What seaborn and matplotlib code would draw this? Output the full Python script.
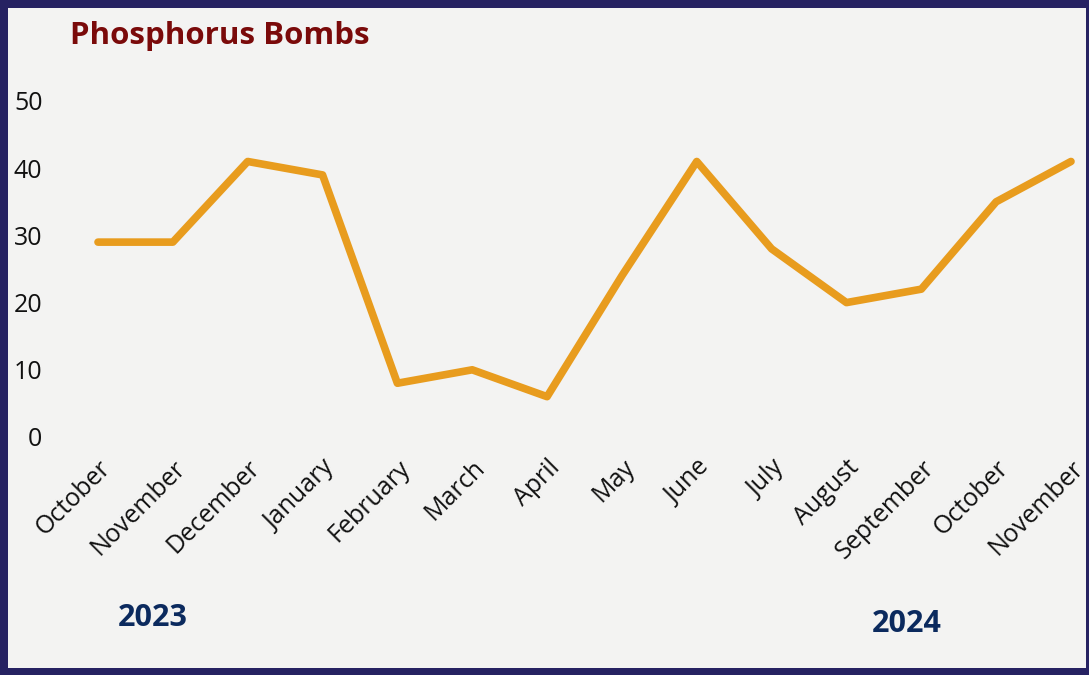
import matplotlib.pyplot as plt
import matplotlib.transforms as mtransforms
from matplotlib.patches import Rectangle
import pandas as pd
import seaborn as sns

months = ['October', 'November', 'December', 'January', 'February', 'March', 'April',
          'May', 'June', 'July', 'August', 'September', 'October', 'November']
bombs = [29, 29, 41, 39, 8, 10, 6, 24, 41, 28, 20, 22, 35, 41]
yticks = [0, 10, 20, 30, 40, 50]

df = pd.DataFrame({'pos': range(len(months)), 'value': bombs})

sns.set_style('white')
plt.rcParams['font.family'] = ['Open Sans', 'DejaVu Sans']

fig = plt.figure(figsize=(10.89, 6.75), dpi=100)
fig.patch.set_facecolor('#262262')
# light panel inside the dark frame
fig.add_artist(Rectangle((8 / 1089, 7 / 675), (1086 - 8) / 1089, (667 - 7) / 675,
                         transform=fig.transFigure, facecolor='#f3f3f2',
                         edgecolor='none', zorder=-10))

ax = fig.add_axes([98 / 1089, (675 - 437) / 675, 973 / 1089, 336 / 675])
ax.set_facecolor('none')
sns.lineplot(data=df, x='pos', y='value', ax=ax, color='#E89C1E', linewidth=5.5,
             solid_capstyle='round', clip_on=False)

ax.set_xlim(0, len(months) - 1)
ax.set_ylim(0, 50)
ax.set_yticks(yticks)
ax.set_yticklabels([str(v) for v in yticks], fontsize=18, color='#111111')
ax.set_xticks(range(len(months)))
ax.set_xticklabels([])
ax.tick_params(axis='y', length=0, pad=40)
ax.tick_params(axis='x', length=0)
ax.set_xlabel('')
ax.set_ylabel('')
sns.despine(ax=ax, left=True, bottom=True)

# month labels, shifted a little right of each tick
offset = mtransforms.ScaledTranslation(9 / 100, -27 / 100, fig.dpi_scale_trans)
for i, m in enumerate(months):
    ax.text(i, 0, m, transform=ax.get_xaxis_transform() + offset, fontsize=18,
            color='#111111', rotation=45, ha='right', va='center',
            rotation_mode='anchor')

fig.text(70 / 1089, 1 - 36 / 675, 'Phosphorus Bombs', fontsize=22.5, fontweight='bold',
         color='#7a0a0a', ha='left', va='center')
fig.text(153 / 1089, 1 - 618 / 675, '2023', fontsize=22, fontweight='bold',
         color='#0b2a5e', ha='center', va='center')
fig.text(907 / 1089, 1 - 624 / 675, '2024', fontsize=22, fontweight='bold',
         color='#0b2a5e', ha='center', va='center')

fig.savefig('out.png', dpi=100, facecolor=fig.get_facecolor())
